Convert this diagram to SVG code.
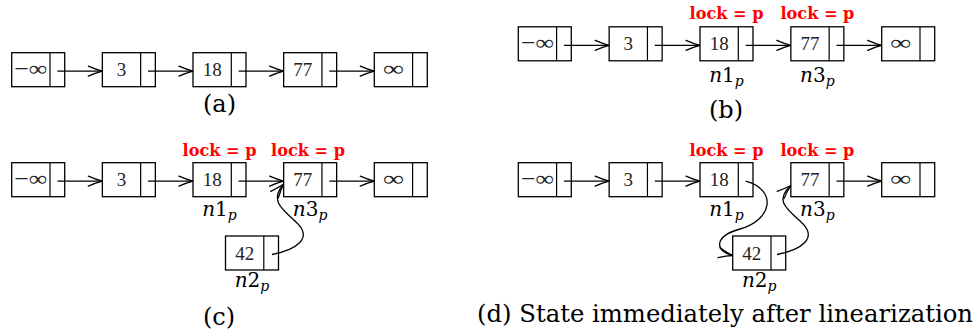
<svg xmlns="http://www.w3.org/2000/svg" width="979" height="333" viewBox="0 0 979 333">
  <style>
    .box { fill: #fff; stroke: #000; stroke-width: 1.3; }
    .div { stroke: #000; stroke-width: 1.2; }
    .val { font-family: "Liberation Serif", serif; font-size: 19px; fill: #222; text-anchor: middle; }
    .inf { font-family: "Liberation Serif", serif; font-size: 22px; fill: #222; text-anchor: middle; }
    .lock { font-family: "DejaVu Serif", serif; font-weight: bold; font-size: 17.5px; fill: #ff0000; text-anchor: middle; }
    .nm { font-family: "DejaVu Serif", serif; font-size: 20px; fill: #000; text-anchor: middle; }
    .sub { font-size: 14px; font-style: italic; }
    .cap { font-family: "DejaVu Serif", serif; font-size: 24px; fill: #000; text-anchor: middle; }
    .link { fill: none; stroke: #000; stroke-width: 1.3; marker-end: url(#to); }
  </style>
  <defs>
    <marker id="to" viewBox="-16 -8 18 16" refX="0" refY="0" markerWidth="18" markerHeight="16" orient="auto" markerUnits="userSpaceOnUse">
      <path d="M-14,-5 Q-6,-1.5 0,0 Q-6,1.5 -14,5" fill="none" stroke="#000" stroke-width="1.3" stroke-linecap="round"/>
    </marker>
    <!-- list cell: value part + pointer part -->
    <g id="cell">
      <rect class="box" x="0" y="0" width="53" height="34"/>
      <line class="div" x1="38.3" y1="0" x2="38.3" y2="34"/>
    </g>
  </defs>

  <!-- (a) initial list -->
  <g id="a-ninf"><use href="#cell" x="11.7" y="52.7"/><text class="inf" x="30.8" y="75.7" textLength="33" lengthAdjust="spacingAndGlyphs">−∞</text></g>
  <g id="a-n3"><use href="#cell" x="102.35" y="52.7"/><text class="val" x="121.5" y="76.3">3</text></g>
  <g id="a-n18"><use href="#cell" x="193" y="52.7"/><text class="val" x="212.15" y="76.3">18</text></g>
  <g id="a-n77"><use href="#cell" x="283.65" y="52.7"/><text class="val" x="302.8" y="76.3">77</text></g>
  <g id="a-pinf"><use href="#cell" x="374.3" y="52.7"/><text class="inf" x="393.45" y="75.7" textLength="21" lengthAdjust="spacingAndGlyphs">∞</text></g>
  <text class="cap" x="219.5" y="112">(a)</text>

  <!-- (b) two nodes locked -->
  <g id="b-ninf"><use href="#cell" x="518.3" y="26.8"/><text class="inf" x="537.45" y="49.8" textLength="33" lengthAdjust="spacingAndGlyphs">−∞</text></g>
  <g id="b-n3"><use href="#cell" x="609.15" y="26.8"/><text class="val" x="628.3" y="50.4">3</text></g>
  <g id="b-n18"><use href="#cell" x="700" y="26.8"/><text class="val" x="719.15" y="50.4">18</text>
    <text class="lock" x="726.5" y="19.3" textLength="74" lengthAdjust="spacingAndGlyphs">lock = p</text>
    <text class="nm" x="726.5" y="81.5"><tspan font-style="italic">n</tspan>1<tspan class="sub" dy="4">p</tspan></text></g>
  <g id="b-n77"><use href="#cell" x="790.85" y="26.8"/><text class="val" x="810" y="50.4">77</text>
    <text class="lock" x="817.4" y="19.3" textLength="74" lengthAdjust="spacingAndGlyphs">lock = p</text>
    <text class="nm" x="817.4" y="81.5"><tspan font-style="italic">n</tspan>3<tspan class="sub" dy="4">p</tspan></text></g>
  <g id="b-pinf"><use href="#cell" x="881.7" y="26.8"/><text class="inf" x="900.85" y="49.8" textLength="21" lengthAdjust="spacingAndGlyphs">∞</text></g>
  <text class="cap" x="726" y="118">(b)</text>

  <!-- (c) new node prepared -->
  <g id="c-ninf"><use href="#cell" x="11.7" y="162.7"/><text class="inf" x="30.8" y="185.7" textLength="33" lengthAdjust="spacingAndGlyphs">−∞</text></g>
  <g id="c-n3"><use href="#cell" x="102.35" y="162.7"/><text class="val" x="121.5" y="186.3">3</text></g>
  <g id="c-n18"><use href="#cell" x="193" y="162.7"/><text class="val" x="212.15" y="186.3">18</text>
    <text class="lock" x="219.5" y="155.5" textLength="74" lengthAdjust="spacingAndGlyphs">lock = p</text>
    <text class="nm" x="219.5" y="216"><tspan font-style="italic">n</tspan>1<tspan class="sub" dy="4">p</tspan></text></g>
  <g id="c-n77"><use href="#cell" x="283.65" y="162.7"/><text class="val" x="302.8" y="186.3">77</text>
    <text class="lock" x="308" y="155.5" textLength="74" lengthAdjust="spacingAndGlyphs">lock = p</text>
    <text class="nm" x="310.15" y="216"><tspan font-style="italic">n</tspan>3<tspan class="sub" dy="4">p</tspan></text></g>
  <g id="c-pinf"><use href="#cell" x="374.3" y="162.7"/><text class="inf" x="393.45" y="185.7" textLength="21" lengthAdjust="spacingAndGlyphs">∞</text></g>
  <g id="c-n42"><use href="#cell" x="225.5" y="236"/><text class="val" x="244.65" y="259.6">42</text>
    <text class="nm" x="252" y="286.5"><tspan font-style="italic">n</tspan>2<tspan class="sub" dy="4">p</tspan></text></g>
  <text class="cap" x="219" y="324.5">(c)</text>

  <!-- (d) after linking the new node -->
  <g id="d-ninf"><use href="#cell" x="518.3" y="162.7"/><text class="inf" x="537.45" y="185.7" textLength="33" lengthAdjust="spacingAndGlyphs">−∞</text></g>
  <g id="d-n3"><use href="#cell" x="609.15" y="162.7"/><text class="val" x="628.3" y="186.3">3</text></g>
  <g id="d-n18"><use href="#cell" x="700" y="162.7"/><text class="val" x="719.15" y="186.3">18</text>
    <text class="lock" x="726.5" y="155.5" textLength="74" lengthAdjust="spacingAndGlyphs">lock = p</text>
    <text class="nm" x="726.5" y="216"><tspan font-style="italic">n</tspan>1<tspan class="sub" dy="4">p</tspan></text></g>
  <g id="d-n77"><use href="#cell" x="790.85" y="162.7"/><text class="val" x="810" y="186.3">77</text>
    <text class="lock" x="817.4" y="155.5" textLength="74" lengthAdjust="spacingAndGlyphs">lock = p</text>
    <text class="nm" x="817.4" y="216"><tspan font-style="italic">n</tspan>3<tspan class="sub" dy="4">p</tspan></text></g>
  <g id="d-pinf"><use href="#cell" x="881.7" y="162.7"/><text class="inf" x="900.85" y="185.7" textLength="21" lengthAdjust="spacingAndGlyphs">∞</text></g>
  <g id="d-n42"><use href="#cell" x="732.7" y="236"/><text class="val" x="751.85" y="259.6">42</text>
    <text class="nm" x="759.2" y="287"><tspan font-style="italic">n</tspan>2<tspan class="sub" dy="4">p</tspan></text></g>
  <text class="cap" x="477" y="322" style="text-anchor:start" textLength="496" lengthAdjust="spacingAndGlyphs">(d) State immediately after linearization</text>

  <!-- next pointers -->
  <g id="links">
    <path class="link" d="M57.35,71.2 H102.35"/>
    <path class="link" d="M148,71.2 H193"/>
    <path class="link" d="M238.65,71.2 H283.65"/>
    <path class="link" d="M329.3,71.2 H374.3"/>

    <path class="link" d="M563.95,45.3 H609.15"/>
    <path class="link" d="M654.8,45.3 H700"/>
    <path class="link" d="M745.65,45.3 H790.85"/>
    <path class="link" d="M836.5,45.3 H881.7"/>

    <path class="link" d="M57.35,181.2 H102.35"/>
    <path class="link" d="M148,181.2 H193"/>
    <path class="link" d="M238.65,181.2 H283.65"/>
    <path class="link" d="M329.3,181.2 H374.3"/>
    <path class="link" d="M272,254.5 C296,250 314,238 296,222 C280,207.6 270,200 283.65,184"/>

    <path class="link" d="M563.95,181.2 H609.15"/>
    <path class="link" d="M654.8,181.2 H700"/>
    <path class="link" d="M836.5,181.2 H881.7"/>
    <path class="link" d="M745.65,181.2 C778,190 772,220 740,229 C712,237 716,252 732.7,255.5"/>
    <path class="link" d="M777,254.5 C801,250 819,238 801,222 C785,207.6 775,200 790.85,185.5"/>
  </g>
</svg>
